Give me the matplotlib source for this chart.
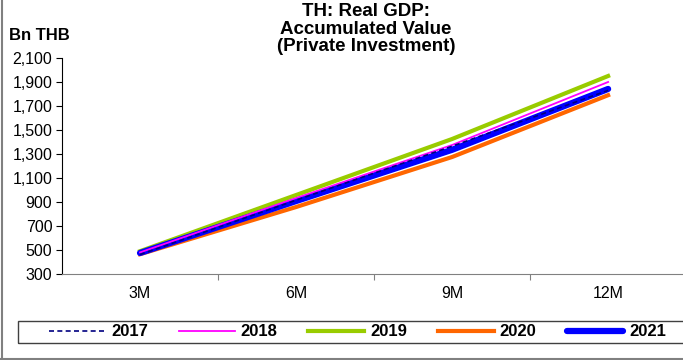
import matplotlib
matplotlib.use("Agg")
import matplotlib.pyplot as plt
from matplotlib.patches import Rectangle
from matplotlib.ticker import FuncFormatter, FixedLocator

plt.rcParams['font.family'] = ['Liberation Sans', 'DejaVu Sans']

# accumulated real private investment, Bn THB
periods = ['3M', '6M', '9M', '12M']
y2017 = [462, 915, 1365, 1830]
y2018 = [480, 933, 1375, 1900]
y2019 = [490, 958, 1425, 1950]
y2020 = [465, 858, 1275, 1790]
y2021 = [475, 908, 1335, 1842]

yticks = list(range(300, 2101, 200))

fig = plt.figure(figsize=(6.83, 3.60), dpi=100)
ax = fig.add_axes([62 / 683, 86 / 360, 621 / 683, 216 / 360])

x = range(len(periods))
ax.plot(x, y2021, color='#0000FF', lw=4.5, solid_capstyle='round', label='2021', zorder=3)
ax.plot(x, y2020, color='#FF6600', lw=3, label='2020', zorder=2)
ax.plot(x, y2019, color='#99CC00', lw=3, label='2019', zorder=2)
ax.plot(x, y2018, color='#FF00FF', lw=1.3, label='2018', zorder=4)
ax.plot(x, y2017, color='#000080', lw=1.2, ls=(0, (3, 2)), label='2017', zorder=5)

ax.set_ylim(300, 2100)
ax.set_yticks(yticks)
ax.yaxis.set_major_formatter(FuncFormatter(lambda v, p: f'{int(v):,}'))
ax.set_xlim(-0.5, 3.48)
ax.xaxis.set_major_locator(FixedLocator([0.5, 1.5, 2.5]))
ax.xaxis.set_major_formatter(FuncFormatter(lambda v, p: ''))
ax.set_xticks(list(x), periods, minor=True)
ax.tick_params(axis='x', which='minor', length=0, pad=9, labelsize=11.5)
ax.tick_params(axis='x', which='major', length=4, color='#808080')
ax.tick_params(axis='y', length=4, labelsize=11.5, pad=3)

for s in ['top', 'right']:
    ax.spines[s].set_visible(False)
ax.spines['left'].set_color('black')
ax.spines['bottom'].set_color('#808080')

fig.text(366 / 683, 1 - 3 / 360, 'TH: Real GDP:\nAccumulated Value\n(Private Investment)',
         ha='center', va='top', fontsize=13.5, fontweight='bold', linespacing=1.05)
fig.text(9 / 683, 1 - 36 / 360, 'Bn THB', ha='left', va='center', fontsize=12, fontweight='bold')

# legend, boxed, running past the right edge
handles, labels = ax.get_legend_handles_labels()
order = [4, 3, 2, 1, 0]
fig.add_artist(Rectangle((18 / 683, 1 - 343 / 360), 700 / 683, 22 / 360,
                         transform=fig.transFigure, fill=False, edgecolor='#404040', lw=1))
fig.legend([handles[i] for i in order], [labels[i] for i in order],
           loc='center left', bbox_to_anchor=(41 / 683, 1 - 332 / 360), ncol=5,
           frameon=False, prop={'weight': 'bold', 'size': 12},
           handlelength=3.35, handletextpad=0.36, columnspacing=1.85, borderpad=0)

# outer chart frame (left and bottom visible)
fig.add_artist(plt.Line2D([1.5 / 683, 1.5 / 683], [0, 1], transform=fig.transFigure, color='#808080', lw=1.5))
fig.add_artist(plt.Line2D([0, 1], [1.5 / 360, 1.5 / 360], transform=fig.transFigure, color='#808080', lw=1.5))

fig.savefig('out.png', dpi=100)
